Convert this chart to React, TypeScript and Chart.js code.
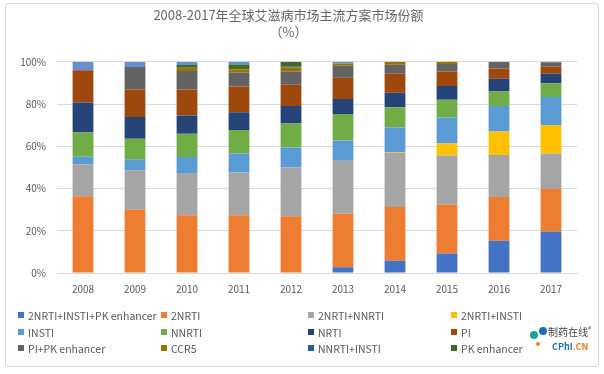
import React, { useEffect, useRef } from "react";
import { Chart, registerables } from "chart.js";

Chart.register(...registerables);

const categories = ["2008", "2009", "2010", "2011", "2012", "2013", "2014", "2015", "2016", "2017"];

const seriesNames = [
  "2NRTI+INSTI+PK enhancer",
  "2NRTI",
  "2NRTI+NNRTI",
  "2NRTI+INSTI",
  "INSTI",
  "NNRTI",
  "NRTI",
  "PI",
  "PI+PK enhancer",
  "CCR5",
  "NNRTI+INSTI",
  "PK enhancer",
  "Other",
];

const s2nrtiInstiPk = [0, 0, 0, 0, 0, 2.7, 5.8, 9.2, 15.3, 19.7];
const s2nrti = [36.3, 30.0, 27.3, 27.3, 26.9, 25.4, 25.5, 23.2, 20.7, 20.1];
const s2nrtiNnrti = [15.2, 18.6, 20.1, 20.3, 23.0, 25.1, 25.6, 23.2, 19.9, 16.8];
const s2nrtiInsti = [0, 0, 0, 0, 0, 0, 0.4, 5.7, 11.1, 13.4];
const sInsti = [3.6, 5.2, 7.5, 9.0, 9.5, 9.5, 11.6, 12.3, 12.1, 13.3];
const sNnrti = [11.4, 9.8, 11.0, 11.1, 11.4, 12.6, 9.6, 8.4, 6.8, 6.5];
const sNrti = [14.2, 10.3, 8.7, 8.4, 8.3, 7.1, 6.8, 6.6, 6.1, 4.6];
const sPi = [15.3, 13.0, 12.3, 12.2, 10.0, 10.0, 9.0, 6.8, 4.8, 3.3];
const sPiPk = [0, 10.6, 8.7, 6.6, 6.3, 5.7, 4.3, 3.5, 3.2, 2.0];
const sCcr5 = [0, 0, 1.6, 1.6, 1.9, 1.1, 1.4, 1.1, 0, 0];
const sNnrtiInsti = [0, 0, 0, 0, 0.3, 0, 0, 0, 0, 0];
const sPkEnhancer = [0, 0, 1.3, 2.2, 2.4, 0, 0, 0, 0, 0.3];
const sOther = [4.0, 2.4, 1.4, 1.4, 0, 0.8, 0, 0, 0, 0];

const seriesValues = [
  s2nrtiInstiPk, s2nrti, s2nrtiNnrti, s2nrtiInsti, sInsti, sNnrti, sNrti,
  sPi, sPiPk, sCcr5, sNnrtiInsti, sPkEnhancer, sOther,
];

const seriesColors = [
  "#4472C4", "#ED7D31", "#A5A5A5", "#FFC000", "#5B9BD5", "#70AD47", "#264478",
  "#9E480E", "#636363", "#997300", "#255E91", "#43682B", "#698ED0",
];

const yTicks = [0, 20, 40, 60, 80, 100];

const titleLines = ["2008-2017年全球艾滋病市场主流方案市场份额", "（%）"];

const FONT = "'Noto Sans CJK SC', 'Noto Sans', sans-serif";
const TEXT = "#595959";

const legendCols = [18, 161, 308, 451];
const legendRows = [315, 332, 348];

export default function App() {
  const ref = useRef<HTMLCanvasElement | null>(null);

  useEffect(() => {
    if (!ref.current) return;
    const chart = new Chart(ref.current, {
      type: "bar",
      data: {
        labels: categories,
        datasets: seriesNames.map((name, i) => ({
          label: name,
          data: seriesValues[i],
          backgroundColor: seriesColors[i],
          borderWidth: 0,
          categoryPercentage: 1,
          barPercentage: 0.4,
        })),
      },
      options: {
        responsive: false,
        animation: false,
        layout: { padding: { left: 0, right: 27, top: 0, bottom: 61 } },
        plugins: {
          legend: { display: false },
          tooltip: { enabled: false },
          title: {
            display: true,
            text: titleLines,
            color: "#666666",
            font: { family: FONT, size: 13, weight: "normal", lineHeight: 1.3 },
            padding: { top: 7, bottom: 21 },
          },
        },
        scales: {
          x: {
            stacked: true,
            grid: { display: false, drawTicks: false },
            border: { display: true, color: "#d9d9d9" },
            ticks: { color: TEXT, font: { family: FONT, size: 10 }, padding: 10 },
            afterFit: (s: any) => { s.height = 40; },
          },
          y: {
            stacked: true,
            min: 0,
            max: 100,
            afterBuildTicks: (s: any) => { s.ticks = yTicks.map((v) => ({ value: v })); },
            grid: { color: "#d9d9d9", drawTicks: false },
            border: { display: false },
            ticks: {
              color: TEXT,
              font: { family: FONT, size: 10 },
              padding: 11,
              callback: (v: any) => v + "%",
            },
            afterFit: (s: any) => { s.width = 57; },
          },
        },
      },
    });
    return () => chart.destroy();
  }, []);

  return (
    <div style={{ position: "fixed", left: 0, top: 0, width: 604, height: 374, background: "#fff", overflow: "hidden" }}>
      <div style={{ position: "absolute", left: 5, top: 3, width: 592, height: 362, border: "1px solid #d9d9d9", borderRadius: 3 }} />
      <canvas ref={ref} width={604} height={374} style={{ position: "absolute", left: 0, top: 0 }} />
      {seriesNames.slice(0, 12).map((name, i) => {
        const col = i % 4;
        const row = Math.floor(i / 4);
        return (
          <div
            key={name}
            style={{
              position: "absolute",
              left: legendCols[col],
              top: legendRows[row] - 8,
              height: 16,
              display: "flex",
              alignItems: "center",
              fontFamily: FONT,
              fontSize: 10.5,
              color: TEXT,
              whiteSpace: "nowrap",
            }}
          >
            <span style={{ display: "inline-block", width: 6, height: 6, background: seriesColors[i], marginRight: 4 }} />
            {name}
          </div>
        );
      })}
      <div style={{ position: "absolute", left: 548, top: 324, fontFamily: FONT, fontSize: 10, color: "#444", whiteSpace: "nowrap" }}>
        制药在线<sup style={{ fontSize: 7 }}>®</sup>
      </div>
      <div style={{ position: "absolute", left: 552, top: 340, fontFamily: FONT, fontSize: 9, fontWeight: "bold", whiteSpace: "nowrap" }}>
        <span style={{ color: "#1f6fb5" }}>CPhI</span>
        <span style={{ color: "#ef7d22" }}>.CN</span>
      </div>
      <div style={{ position: "absolute", left: 530, top: 331, width: 8, height: 8, background: "#1aa39a", borderRadius: "50%" }} />
      <div style={{ position: "absolute", left: 539, top: 327, width: 8, height: 8, background: "#1f6fb5", borderRadius: "50%" }} />
      <div style={{ position: "absolute", left: 536, top: 342, width: 4, height: 4, background: "#ef7d22", borderRadius: "50%" }} />
    </div>
  );
}
